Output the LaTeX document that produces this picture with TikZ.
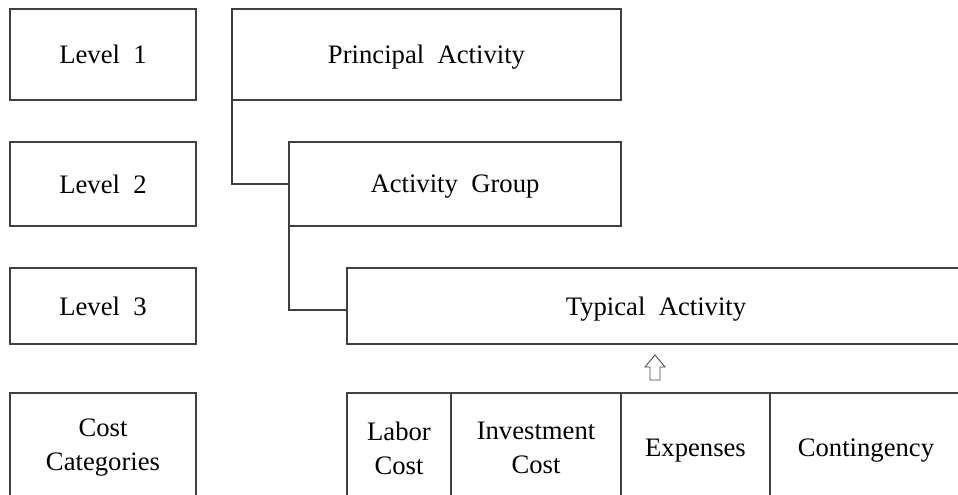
\documentclass[tikz,border=0pt]{standalone}
\usepackage{fontspec}
\setmainfont{Liberation Serif}

\providecommand*{\boxLine}{}
\renewcommand*{\boxLine}{black!75}

\tikzset{
  anyBox/.style={draw=\boxLine,line width=0.8pt,inner sep=0pt,outer sep=0pt,
    align=center,font=\fontsize{20}{25.5}\selectfont},
  oneLine/.style={text depth=0pt},
  levelBox/.style={anyBox,minimum width=139.5pt},
  costCell/.style={anyBox,minimum height=82.5pt}
}

\begin{document}
\begin{tikzpicture}[x=0.75pt,y=-0.75pt]
  \useasboundingbox (0,0) rectangle (958,495);
  \clip (0,0) rectangle (958,495);
  % levels on the left
  \node [levelBox,oneLine,minimum height=68.25pt] (lvlOne) at (103,54.5) {Level~~1};
  \node [levelBox,oneLine,minimum height=63pt] (lvlTwo) at (103,184) {Level~~2};
  \node [levelBox,oneLine,minimum height=57pt] (lvlThree) at (103,306) {Level~~3};
  \node [levelBox,costCell] (costCat) at (103,448) {Cost\\Categories};
  % activity hierarchy
  \node [anyBox,oneLine,minimum width=291.75pt,minimum height=68.25pt] (princAct) at (426.5,54.5) {Principal~~Activity};
  \node [anyBox,oneLine,minimum width=249pt,minimum height=63pt] (actGroup) at (455,184) {Activity~~Group};
  \node [anyBox,oneLine,minimum width=463.5pt,minimum height=57pt] (typAct) at (656,306) {Typical~~Activity};
  \draw [\boxLine,line width=0.8pt] (princAct.south west) |- (actGroup.west);
  \draw [\boxLine,line width=0.8pt] (actGroup.south west) |- ([yshift=-3pt]typAct.west);
  % cost categories row
  \node [costCell,minimum width=78pt] (laborCost) at (399,448) {Labor\\Cost};
  \node [costCell,minimum width=127.5pt] (investCost) at (536,448) {Investment\\Cost};
  \node [costCell,oneLine,minimum width=111.75pt] (expenses) at (695.5,448) {Expenses};
  \node [costCell,oneLine,minimum width=144pt] (contingency) at (866,448) {Contingency};
  % hollow arrow up
  \coordinate (arrowTip) at (655,355);
  \draw [\boxLine,line width=0.6pt,line join=miter] (arrowTip) -- ++(10,12) -- ++(-5,0) -- ++(0,13)
    -- ++(-10,0) -- ++(0,-13) -- ++(-5,0) -- cycle;
\end{tikzpicture}
\end{document}
